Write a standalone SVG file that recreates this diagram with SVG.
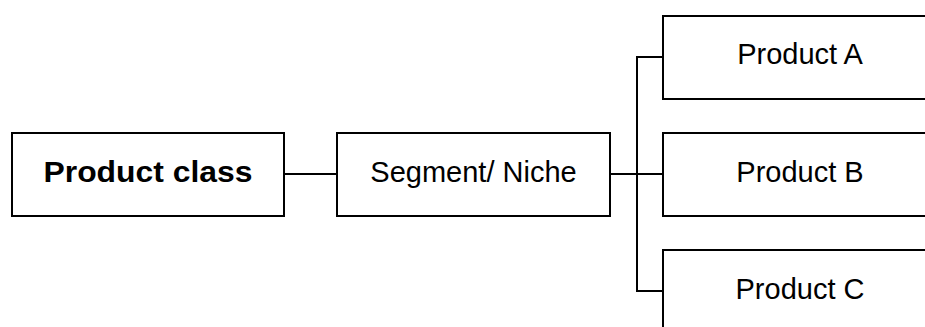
<svg xmlns="http://www.w3.org/2000/svg" width="925" height="327" viewBox="0 0 925 327">
<style>
.box{fill:#fff;stroke:#000;stroke-width:2}
.lbl{font-family:"Liberation Sans",Arial,sans-serif;font-size:29px;fill:#000;text-anchor:middle}
.b{font-weight:bold;font-size:29px}
.conn{fill:none;stroke:#000;stroke-width:2}
</style>
<rect width="925" height="327" fill="#fff"/>
<g id="connectors">
<line class="conn" x1="284" y1="174" x2="337" y2="174"/>
<line class="conn" x1="610" y1="174" x2="663" y2="174"/>
<polyline class="conn" points="663,57 637,57 637,291 663,291"/>
</g>
<g id="product-class">
<rect class="box" x="12" y="133" width="272" height="83"/>
<text class="lbl b" x="148" y="182" textLength="209" lengthAdjust="spacingAndGlyphs">Product class</text>
</g>
<g id="segment">
<rect class="box" x="337" y="133" width="273" height="83"/>
<text class="lbl" x="473.5" y="181.5">Segment/ Niche</text>
</g>
<g id="product-a">
<rect class="box" x="663" y="16" width="280" height="83"/>
<text class="lbl" x="800" y="63.5">Product A</text>
</g>
<g id="product-b">
<rect class="box" x="663" y="133" width="280" height="83"/>
<text class="lbl" x="800" y="181.5">Product B</text>
</g>
<g id="product-c">
<rect class="box" x="663" y="250" width="280" height="83"/>
<text class="lbl" x="800" y="298.5">Product C</text>
</g>
</svg>
